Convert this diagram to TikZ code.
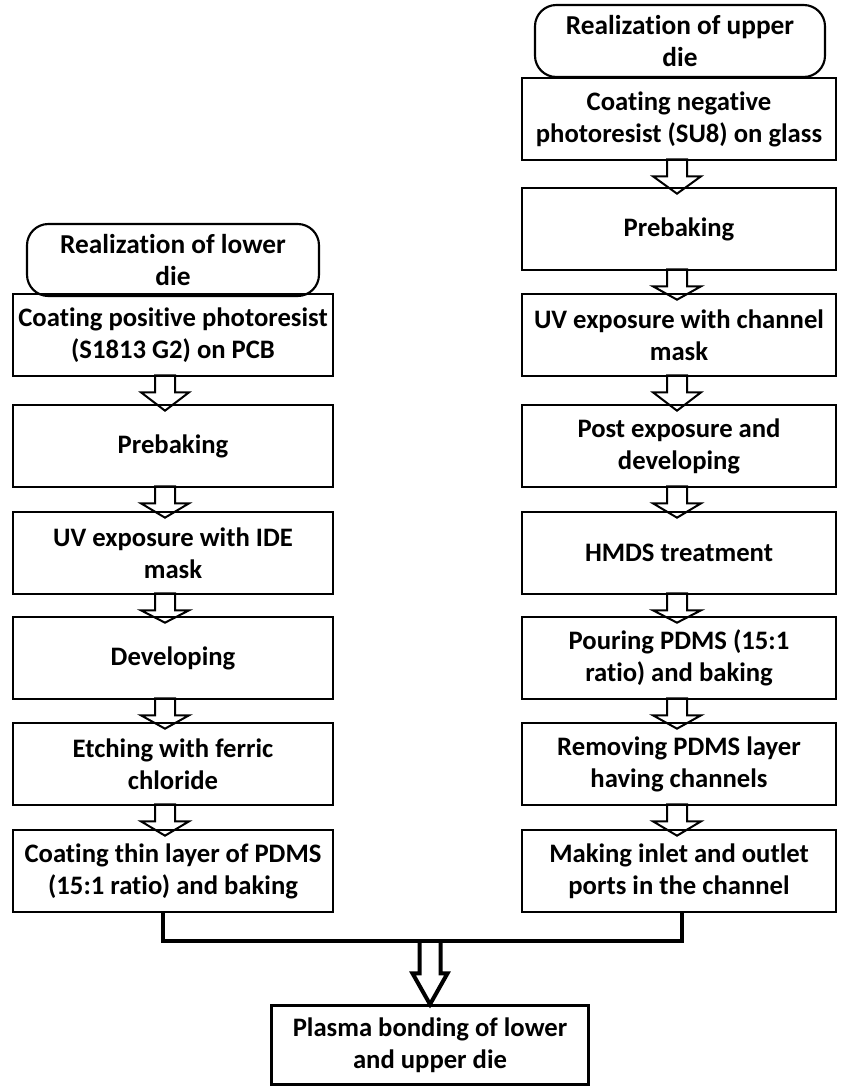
\documentclass[tikz,border=0pt]{standalone}
\usepackage{fontspec}
\setmainfont[Ligatures={NoCommon}]{Carlito}
\usepackage{tikz}
\usetikzlibrary{calc}

\tikzset{
  stepbox/.style={draw,line width=2pt,minimum height=61.5pt,align=center,inner sep=1pt,
    font=\bfseries\fontsize{20}{24}\selectfont},
  headbox/.style={draw,line width=1.6pt,rounded corners=16pt,minimum width=219pt,minimum height=54pt,
    align=center,inner sep=1pt,font=\bfseries\fontsize{20.5}{24.5}\selectfont},
  smallarrow/.style={draw,line width=1.5pt,line join=miter},
  bigarrow/.style={draw,line width=3pt,line join=miter},
  joinline/.style={draw,line width=3pt,line join=miter}
}

% hollow arrow from one box down to the next: upper, lower, xshift
\newcommand{\hollowarrow}[3]{%
\draw[smallarrow] ($(#1.south)+(#3-10,-2)$) -- ++(0,17) -- ++(-14,0) -- ($(#2.north)+(#3,7)$)
  -- ($(#1.south)+(#3+24,15)$) -- ++(-14,0) -- ++(0,-17) -- cycle;}

\begin{document}
\begin{tikzpicture}[x=0.75pt,y=-0.75pt]
\useasboundingbox (0,0) rectangle (840,1086);

% lower die
\node (L0) at (173,260) [headbox]{Realization of lower\\die};
\node (L1) at (173,335) [stepbox,minimum width=240pt]{Coating positive photoresist\\(S1813 G2) on PCB};
\node (L2) at (173,446) [stepbox,minimum width=240pt]{Prebaking};
\node (L3) at (173,553) [stepbox,minimum width=240pt]{UV exposure with IDE\\mask};
\node (L4) at (173,658) [stepbox,minimum width=240pt]{Developing};
\node (L5) at (173,764) [stepbox,minimum width=240pt]{Etching with ferric\\chloride};
\node (L6) at (173,871) [stepbox,minimum width=240pt]{Coating thin layer of PDMS\\(15:1 ratio) and baking};

% upper die
\node (R0) at (680,41) [headbox,minimum width=217.5pt]{Realization of upper\\die};
\node (R1) at (679,119) [stepbox,minimum width=235.5pt]{Coating negative\\photoresist (SU8) on glass};
\node (R2) at (679,229) [stepbox,minimum width=235.5pt]{Prebaking};
\node (R3) at (679,335) [stepbox,minimum width=235.5pt]{UV exposure with channel\\mask};
\node (R4) at (679,446) [stepbox,minimum width=235.5pt]{Post exposure and\\developing};
\node (R5) at (679,553) [stepbox,minimum width=235.5pt]{HMDS treatment};
\node (R6) at (679,658) [stepbox,minimum width=235.5pt]{Pouring PDMS (15:1\\ratio) and baking};
\node (R7) at (679,764) [stepbox,minimum width=235.5pt]{Removing PDMS layer\\having channels};
\node (R8) at (679,871) [stepbox,minimum width=235.5pt]{Making inlet and outlet\\ports in the channel};

% bonding
\node (P) at (430,1045) [stepbox,minimum width=238pt,minimum height=59pt]{Plasma bonding of lower\\and upper die};

\hollowarrow{L1}{L2}{-8}
\hollowarrow{L2}{L3}{-8}
\hollowarrow{L3}{L4}{-8}
\hollowarrow{L4}{L5}{-8}
\hollowarrow{L5}{L6}{-8}

\hollowarrow{R1}{R2}{-2}
\hollowarrow{R2}{R3}{-2}
\hollowarrow{R3}{R4}{-2}
\hollowarrow{R4}{R5}{-2}
\hollowarrow{R5}{R6}{-2}
\hollowarrow{R6}{R7}{-2}
\hollowarrow{R7}{R8}{-2}

\coordinate (merge) at ($(P.north)+(0,-63)$);
\draw[joinline] ($(L6.south)+(-10,0)$) |- (merge) -| ($(R8.south)+(3,0)$);
\draw[bigarrow] ($(merge)+(-10.5,0)$) -- ++(0,32) -- ++(-7,0) -- (P.north)
  -- ($(merge)+(17.5,32)$) -- ++(-7,0) -- ++(0,-32);
\end{tikzpicture}
\end{document}
